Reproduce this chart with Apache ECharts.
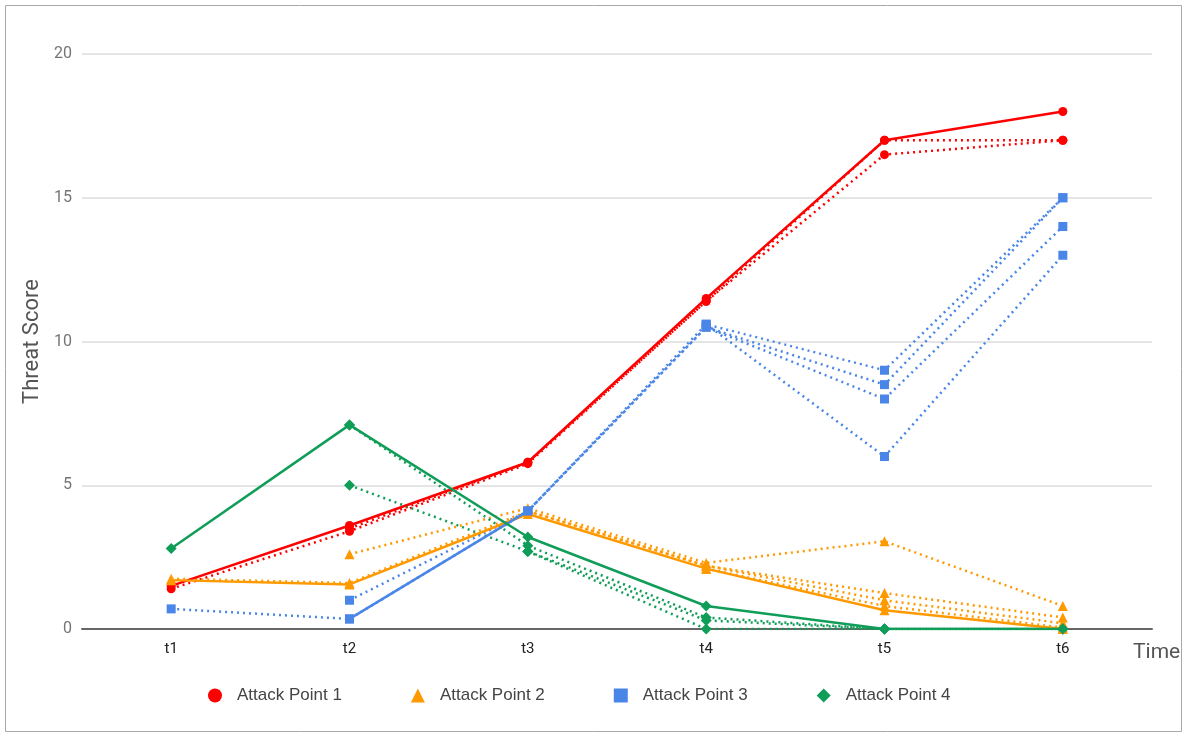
<!DOCTYPE html>
<html>
<head>
<meta charset="utf-8">
<script src="https://cdn.jsdelivr.net/npm/echarts@6/dist/echarts.min.js"></script>
<style>
  html, body { margin: 0; padding: 0; background: #fff; }
  #chart { width: 1187px; height: 736px; }
</style>
</head>
<body>
<div id="chart"></div>
<script>
// time steps and y ticks
const times = ['t1', 't2', 't3', 't4', 't5', 't6']
const yTicks = [0, 5, 10, 15, 20]

// Attack Point 1 (red)
const ap1Main = [1.5, 3.6, 5.8, 11.5, 17, 18]
const ap1Alt = [
  [1.4, 3.4, 5.75, 11.4, 17, 17],
  [null, 3.5, 5.8, 11.4, 16.5, 17]
]
// Attack Point 2 (orange)
const ap2Main = [1.7, 1.55, 4.0, 2.1, 0.65, 0.0]
const ap2Alt = [
  [1.75, 1.6, 4.1, 2.2, 1.0, 0.2],
  [null, 2.6, 4.2, 2.3, 3.05, 0.8],
  [null, null, 4.1, 2.2, 1.25, 0.4],
  [null, null, null, 2.1, 0.8, 0.05]
]
// Attack Point 3 (blue)
const ap3Main = [null, 0.35, 4.1, null, null, null]
const ap3Alt = [
  [0.7, 0.35, 4.1, 10.6, 9, 15],
  [null, 1.0, 4.1, 10.5, 8.5, 15],
  [null, null, 4.1, 10.5, 8, 14],
  [null, null, null, 10.6, 6, 13]
]
// Attack Point 4 (green)
const ap4Main = [2.8, 7.1, 3.2, 0.8, 0, 0]
const ap4Alt = [
  [null, 7.1, 2.9, 0.4, 0, 0],
  [null, 5.0, 2.7, 0.3, 0, 0],
  [null, null, 2.7, 0.0, 0, 0]
]

const groups = [
  { name: 'Attack Point 1', color: '#ff0000', symbol: 'circle', size: 9, main: ap1Main, alt: ap1Alt },
  { name: 'Attack Point 2', color: '#ff9900', symbol: 'triangle', size: 10, main: ap2Main, alt: ap2Alt },
  { name: 'Attack Point 3', color: '#4a86e8', symbol: 'rect', size: 9, main: ap3Main, alt: ap3Alt },
  { name: 'Attack Point 4', color: '#0f9d58', symbol: 'diamond', size: 11, main: ap4Main, alt: ap4Alt }
]

const series = []
for (const g of groups) {
  g.alt.forEach((d, i) => {
    series.push({
      name: g.name + ' (' + (i + 1) + ')',
      type: 'line',
      data: d,
      symbol: g.symbol,
      symbolSize: g.size,
      showSymbol: true,
      connectNulls: false,
      itemStyle: { color: g.color },
      lineStyle: { color: g.color, width: 2.5, type: [2, 4] },
      z: 2
    })
  })
  series.push({
    name: g.name,
    type: 'line',
    data: g.main,
    symbol: g.symbol,
    symbolSize: g.size,
    showSymbol: true,
    itemStyle: { color: g.color },
    lineStyle: { color: g.color, width: 2.5 },
    z: 3
  })
}

const chart = echarts.init(document.getElementById('chart'))
chart.setOption({
  animation: false,
  textStyle: { fontFamily: 'Roboto, Arial, sans-serif' },
  grid: { left: 82, right: 35, top: 54, bottom: 107 },
  graphic: [{
    type: 'rect',
    silent: true,
    shape: { x: 5.5, y: 5.5, width: 1176, height: 726 },
    style: { fill: 'none', stroke: '#a8a8a8', lineWidth: 1 }
  }],
  legend: {
    data: groups.map(g => ({ name: g.name, icon: g.symbol })),
    left: 203,
    top: 682,
    itemWidth: 14,
    itemHeight: 14,
    itemGap: 69,
    textStyle: { fontSize: 17, color: '#444', padding: [0, 0, 0, 10], fontFamily: 'Arial, "Liberation Sans", sans-serif' }
  },
  xAxis: {
    type: 'category',
    data: times,
    boundaryGap: true,
    name: 'Time',
    nameLocation: 'end',
    nameGap: -19,
    nameTextStyle: { fontSize: 21, color: '#555', align: 'left', verticalAlign: 'top', padding: [13, 0, 0, 0] },
    axisLine: { lineStyle: { color: '#666', width: 2 } },
    axisTick: { show: false },
    axisLabel: { fontSize: 15, color: '#222', margin: 13 }
  },
  yAxis: {
    type: 'value',
    min: yTicks[0],
    max: yTicks[yTicks.length - 1],
    interval: 5,
    name: 'Threat Score',
    nameLocation: 'middle',
    nameGap: 36,
    nameTextStyle: { fontSize: 22, color: '#555' },
    axisLine: { show: false },
    axisTick: { show: false },
    axisLabel: { fontSize: 16, color: '#757575', margin: 10 },
    splitLine: { lineStyle: { color: '#dcdcdc', width: 1.5 } }
  },
  series: series
})
</script>
</body>
</html>
